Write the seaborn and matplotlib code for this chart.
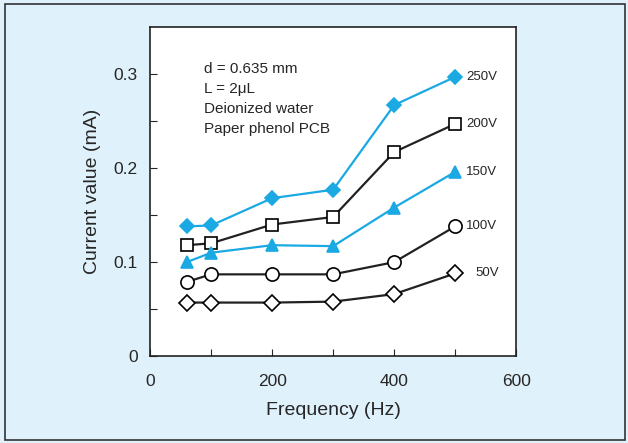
import numpy as np
import pandas as pd
import matplotlib
matplotlib.use('Agg')
import matplotlib.pyplot as plt
import matplotlib.patches as patches
from matplotlib.ticker import FixedLocator
import seaborn as sns

# datos
freq = [60, 100, 200, 300, 400, 500]
i_250 = [0.138, 0.139, 0.168, 0.177, 0.267, 0.297]
i_200 = [0.118, 0.120, 0.140, 0.148, 0.217, 0.247]
i_150 = [0.100, 0.110, 0.118, 0.117, 0.158, 0.196]
i_100 = [0.079, 0.087, 0.087, 0.087, 0.100, 0.138]
i_50 = [0.057, 0.057, 0.057, 0.058, 0.066, 0.088]
voltages = ['250V', '200V', '150V', '100V', '50V']
notes = ['d = 0.635 mm', 'L = 2\u03bcL', 'Deionized water', 'Paper phenol PCB']

sns.set_style('white')
plt.rcParams['font.family'] = ['Liberation Sans', 'DejaVu Sans']

bg = '#dff1fa'
cyan = '#1aa9e3'

fig = plt.figure(figsize=(6.28, 4.43), dpi=100, facecolor=bg)
ax = fig.add_axes([0.239, 0.196, 0.583, 0.743])
ax.set_facecolor('white')

series = [i_250, i_200, i_150, i_100, i_50]
estilos = [
    dict(color=cyan, marker='D', mfc=cyan, mec=cyan, ms=7),
    dict(color='#222222', marker='s', mfc='white', mec='black', ms=8.5),
    dict(color=cyan, marker='^', mfc=cyan, mec=cyan, ms=8),
    dict(color='#222222', marker='o', mfc='white', mec='black', ms=9.5),
    dict(color='#222222', marker='D', mfc='white', mec='black', ms=8.5),
]

for vals, est in zip(series, estilos):
    df = pd.DataFrame({'freq': freq, 'current': vals})
    sns.lineplot(data=df, x='freq', y='current', ax=ax, color=est['color'],
                 marker=est['marker'], markersize=est['ms'],
                 markerfacecolor=est['mfc'], markeredgecolor=est['mec'],
                 markeredgewidth=1.2, linewidth=1.6)

# etiquetas de voltaje a la derecha de cada serie
offsets = [1.8, 1.8, 1.8, 1.8, 3.3]
for v, vals, off in zip(voltages, series, offsets):
    ax.text(freq[-1] + off * 10, vals[-1], v, fontsize=9.5, va='center', ha='left')

ax.set_xlim(0, 600)
ax.set_ylim(0, 0.35)
ax.xaxis.set_major_locator(FixedLocator([0, 200, 400, 600]))
ax.xaxis.set_minor_locator(FixedLocator([100, 300, 500]))
ax.yaxis.set_major_locator(FixedLocator([0, 0.1, 0.2, 0.3]))
ax.yaxis.set_minor_locator(FixedLocator([0.05, 0.15, 0.25]))
ax.set_yticklabels(['0', '0.1', '0.2', '0.3'])
ax.tick_params(which='both', direction='in', length=5, width=0.8,
               left=True, bottom=True, labelsize=12.5)
ax.tick_params(axis='x', pad=13)
ax.tick_params(axis='y', pad=9)
for s in ax.spines.values():
    s.set_color('#222222')
    s.set_linewidth(1.2)

ax.set_xlabel('Frequency (Hz)', fontsize=14, labelpad=9)
ax.set_ylabel('Current value (mA)', fontsize=14, labelpad=9)

ax.text(88, 0.313, '\n'.join(notes), fontsize=11, va='top', ha='left', linespacing=1.55)

# marco exterior
fig.patches.append(patches.Rectangle((0.008, 0.007), 0.988, 0.985, transform=fig.transFigure,
                                     fill=False, edgecolor='#333333', linewidth=1.2))

fig.savefig('out.png', dpi=100, facecolor=bg)
